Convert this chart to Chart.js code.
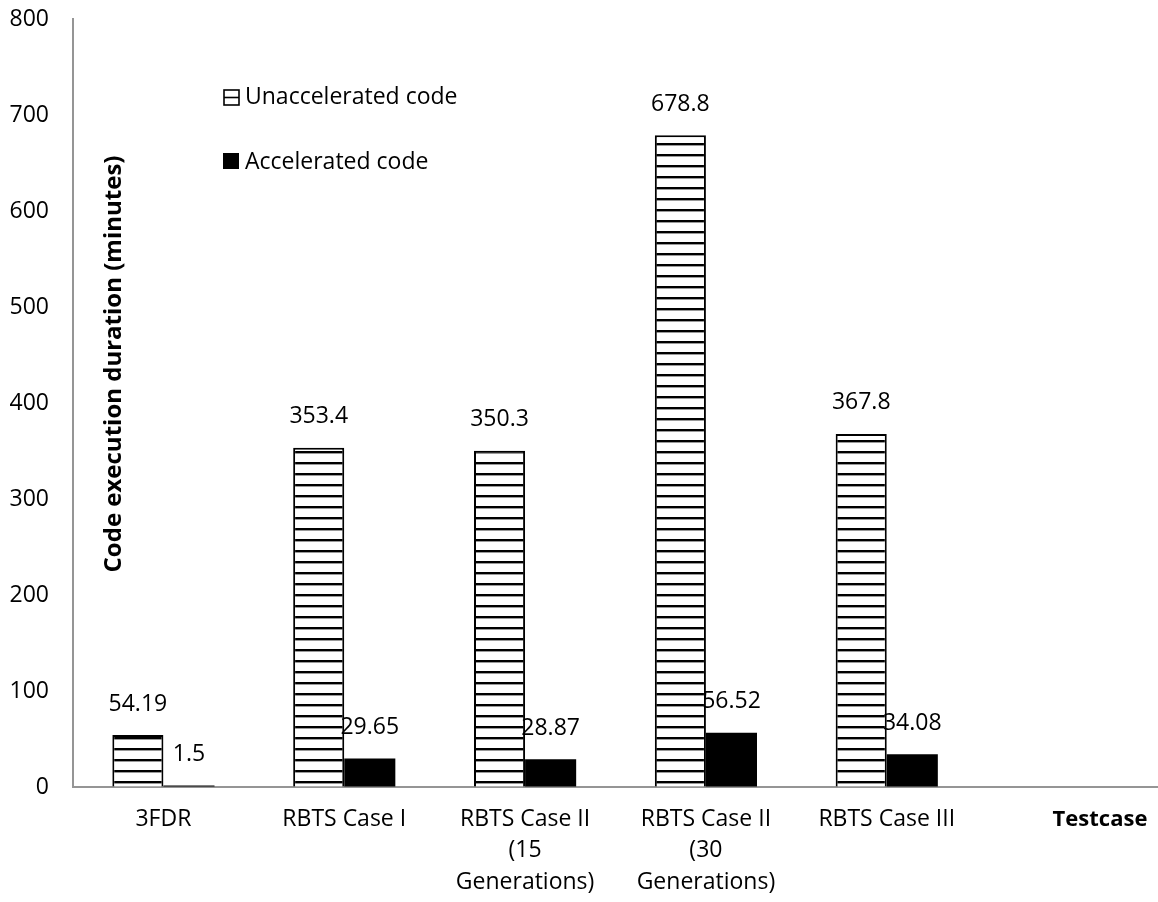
<!DOCTYPE html>
<html>
<head>
<meta charset="utf-8">
<script src="https://cdn.jsdelivr.net/npm/chart.js@4/dist/chart.umd.min.js"></script>
<style>
  html, body { margin: 0; padding: 0; background: #ffffff; }
  canvas { display: block; }
</style>
</head>
<body>
<canvas id="chart" width="1158" height="902"></canvas>
<script>
// Test cases along the x axis (the sixth slot is left empty)
const categories = [
  ['3FDR'],
  ['RBTS Case I'],
  ['RBTS Case II', '(15', 'Generations)'],
  ['RBTS Case II', '(30', 'Generations)'],
  ['RBTS Case III'],
  ''
];
// Execution time in minutes
const unaccelerated = [54.19, 353.4, 350.3, 678.8, 367.8, null];
const accelerated = [1.5, 29.65, 28.87, 56.52, 34.08, null];
const seriesNames = ['Unaccelerated code', 'Accelerated code'];
const yMin = 0, yMax = 800, yStep = 100;
const yTitle = 'Code execution duration (minutes)';
const xTitle = 'Testcase';

const FONT = "'Open Sans', 'Liberation Sans', sans-serif";
const FS = 23;

// Horizontal-stripe fill for the unaccelerated bars
function stripePattern() {
  const c = document.createElement('canvas');
  c.width = 8; c.height = 11;
  const g = c.getContext('2d');
  g.fillStyle = '#ffffff';
  g.fillRect(0, 0, 8, 11);
  g.fillStyle = '#000000';
  g.fillRect(0, 0, 8, 2);
  g.fillStyle = '#9a9a9a';
  g.fillRect(0, 2, 8, 1);
  return g.createPattern(c, 'repeat');
}

const ctx = document.getElementById('chart').getContext('2d');
const stripes = stripePattern();

const overlay = {
  id: 'overlay',
  afterDatasetsDraw(chart) {
    const c = chart.ctx;
    c.save();
    c.font = `${FS}px ${FONT}`;
    c.fillStyle = '#000';
    c.textAlign = 'center';
    c.textBaseline = 'middle';
    chart.data.datasets.forEach((ds, di) => {
      const meta = chart.getDatasetMeta(di);
      meta.data.forEach((bar, i) => {
        const v = ds.data[i];
        if (v === null || v === undefined) return;
        c.fillText(String(v), bar.x, bar.y - 31);
      });
    });
    c.restore();
  },
  afterDraw(chart) {
    const c = chart.ctx;
    c.save();
    // legend
    c.font = `${FS}px ${FONT}`;
    c.textAlign = 'left';
    c.textBaseline = 'middle';
    // hatched key
    c.fillStyle = '#fff';
    c.fillRect(224, 90, 15, 15);
    c.strokeStyle = '#000';
    c.lineWidth = 1.6;
    c.strokeRect(224, 90, 15, 15);
    c.beginPath();
    c.moveTo(224, 97.5); c.lineTo(239, 97.5);
    c.stroke();
    c.fillStyle = '#000';
    c.fillText(seriesNames[0], 245, 97);
    // solid key
    c.fillRect(223, 153, 16, 16);
    c.fillText(seriesNames[1], 245, 162);

    // y axis title, drawn inside the plot next to the axis
    c.font = `bold 24px ${FONT}`;
    c.translate(114, 364);
    c.rotate(-Math.PI / 2);
    c.textAlign = 'center';
    c.fillText(yTitle, 0, 0);
    c.setTransform(1, 0, 0, 1, 0, 0);

    // x axis title at the right end of the axis
    c.font = `bold ${FS - 1}px ${FONT}`;
    c.textAlign = 'center';
    c.fillText(xTitle, 1100, 820);
    c.restore();
  }
};

new Chart(ctx, {
  type: 'bar',
  data: {
    labels: categories,
    datasets: [
      {
        label: seriesNames[0],
        data: unaccelerated,
        backgroundColor: stripes,
        borderColor: '#000',
        borderWidth: 2,
        borderSkipped: 'bottom'
      },
      {
        label: seriesNames[1],
        data: accelerated,
        backgroundColor: '#000',
        borderColor: '#000',
        borderWidth: 0
      }
    ]
  },
  options: {
    responsive: false,
    animation: false,
    layout: { padding: { top: 19, right: 0, bottom: 0, left: 0 } },
    plugins: {
      legend: { display: false },
      tooltip: { enabled: false }
    },
    datasets: {
      bar: { barPercentage: 1.0, categoryPercentage: 0.565 }
    },
    scales: {
      x: {
        grid: { display: true, drawOnChartArea: false, drawTicks: false, color: 'rgba(0,0,0,0)' },
        border: { display: true, color: '#959595', width: 2 },
        ticks: {
          color: '#000',
          font: { family: FONT, size: FS, lineHeight: 1.36 },
          padding: 17,
          maxRotation: 0,
          autoSkip: false
        },
        afterFit(scale) { scale.height = 115; }
      },
      y: {
        min: yMin,
        max: yMax,
        grid: { display: true, drawOnChartArea: false, drawTicks: false, color: 'rgba(0,0,0,0)' },
        border: { display: true, color: '#959595', width: 2 },
        ticks: {
          stepSize: yStep,
          color: '#000',
          font: { family: FONT, size: FS },
          padding: 24
        },
        afterFit(scale) {
          scale.width = 73;
          scale.paddingTop = 0;
          scale.paddingBottom = 0;
        }
      }
    }
  },
  plugins: [overlay]
});
</script>
</body>
</html>
